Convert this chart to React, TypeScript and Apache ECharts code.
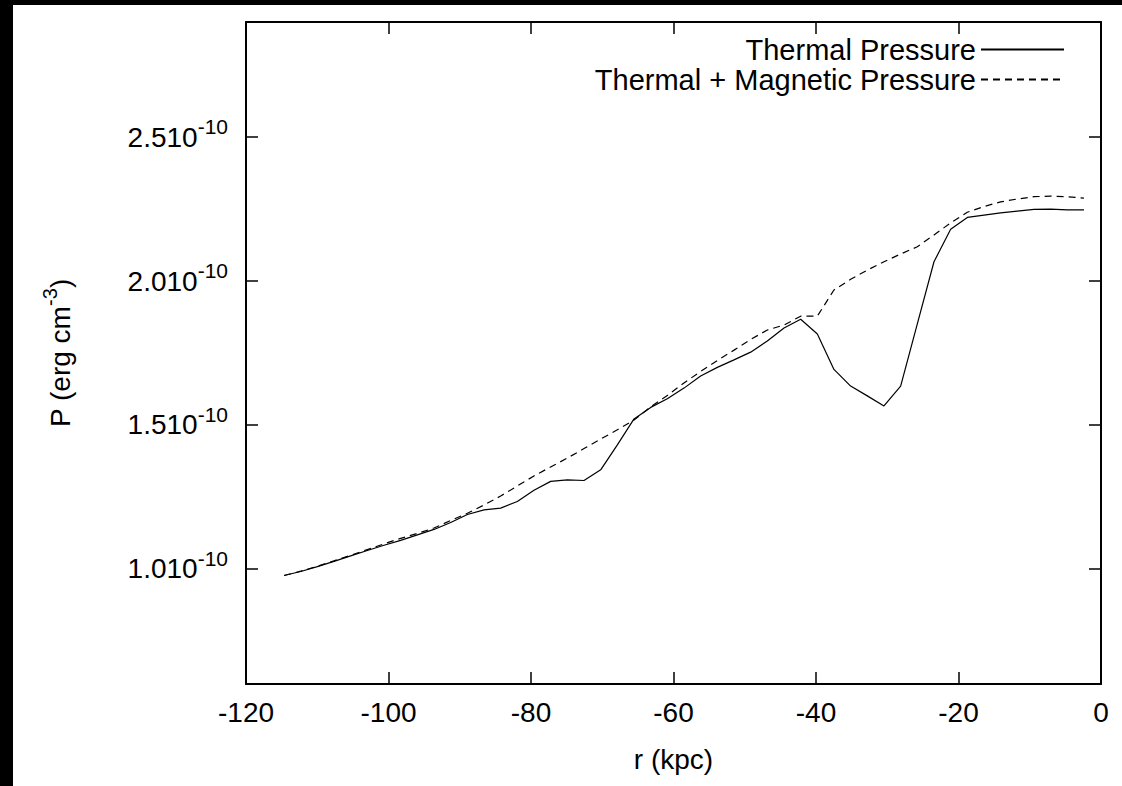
import React, { useEffect, useRef } from "react";
import * as echarts from "echarts";

// radius (kpc)
const radiusKpc = [
  -114.66, -112.32, -109.98, -107.65, -105.31, -102.97, -100.63, -98.29, -95.95, -93.61,
  -91.27, -88.93, -86.59, -84.26, -81.92, -79.58, -77.24, -74.9, -72.56, -70.22,
  -67.88, -65.54, -63.2, -60.87, -58.53, -56.19, -53.85, -51.51, -49.17, -46.83,
  -44.49, -42.15, -39.81, -37.48, -35.14, -32.8, -30.46, -28.12, -25.78, -23.44,
  -21.1, -18.76, -16.42, -14.09, -11.75, -9.41, -7.07, -4.73, -2.39,
];

// pressure in units of 1e-10 erg cm^-3
const thermalPressure = [
  0.977, 0.991, 1.008, 1.026, 1.045, 1.064, 1.082, 1.099, 1.118, 1.137,
  1.161, 1.189, 1.205, 1.211, 1.234, 1.273, 1.304, 1.309, 1.307, 1.344,
  1.431, 1.521, 1.561, 1.591, 1.628, 1.67, 1.7, 1.726, 1.753, 1.792,
  1.837, 1.867, 1.816, 1.693, 1.635, 1.601, 1.566, 1.635, 1.851, 2.067,
  2.18, 2.221, 2.229, 2.237, 2.243, 2.249, 2.25, 2.247, 2.247,
];

const thermalMagneticPressure = [
  0.977, 0.992, 1.009, 1.028, 1.047, 1.067, 1.087, 1.106, 1.123, 1.142,
  1.168, 1.193, 1.222, 1.253, 1.288, 1.323, 1.354, 1.385, 1.418, 1.451,
  1.483, 1.517, 1.563, 1.602, 1.646, 1.686, 1.724, 1.76, 1.797, 1.83,
  1.847, 1.878, 1.878, 1.969, 2.006, 2.038, 2.067, 2.094, 2.119, 2.16,
  2.202, 2.239, 2.259, 2.275, 2.285, 2.293, 2.295, 2.293, 2.288,
];

const yTickValues = [1.0, 1.5, 2.0, 2.5];
const seriesNames = ["Thermal Pressure", "Thermal + Magnetic Pressure"];

const FONT = "'Liberation Sans', Arial, Helvetica, sans-serif";

const makeTick = (custom?: number[]) => {
  const t: any = {
    show: true,
    inside: true,
    length: 12,
    lineStyle: { color: "#000", width: 1.5 },
  };
  if (custom) t.customValues = custom;
  return t;
};
const makeLine = () => ({ show: true, onZero: false, lineStyle: { color: "#000", width: 2 } });

const supRich = (size: number) => ({
  a: { fontFamily: FONT, fontSize: 28, lineHeight: 28, color: "#000", verticalAlign: "bottom" },
  b: {
    fontFamily: FONT,
    fontSize: size,
    lineHeight: size,
    color: "#000",
    verticalAlign: "bottom",
    padding: [0, 0, 14, 0],
  },
});

export default function App() {
  const ref = useRef<HTMLDivElement>(null);
  useEffect(() => {
    if (!ref.current) return;
    const chart = echarts.init(ref.current, undefined, { renderer: "svg" });
    const legendBase = {
      right: 57,
      padding: 0,
      align: "right",
      orient: "vertical",
      itemWidth: 83,
      itemHeight: 12,
      itemGap: 0,
      selectedMode: false,
      itemStyle: { opacity: 0 },
      textStyle: { fontFamily: FONT, fontSize: 29, color: "#000", lineHeight: 28 },
    };
    chart.setOption({
      animation: false,
      backgroundColor: "#fff",
      textStyle: { fontFamily: FONT, color: "#000" },
      grid: { left: 246, top: 22, right: 21, bottom: 102, containLabel: false },
      legend: [
        { ...legendBase, data: [seriesNames[0]], top: 35 },
        { ...legendBase, data: [seriesNames[1]], top: 65 },
      ],
      xAxis: [
        {
          type: "value",
          min: -120,
          max: 0,
          interval: 20,
          position: "bottom",
          name: "r (kpc)",
          nameLocation: "middle",
          nameGap: 61,
          nameTextStyle: { fontFamily: FONT, fontSize: 28, color: "#000" },
          axisLine: makeLine(),
          axisTick: makeTick(),
          splitLine: { show: false },
          axisLabel: { fontFamily: FONT, fontSize: 28, color: "#000", margin: 14 },
        },
        {
          type: "value",
          min: -120,
          max: 0,
          interval: 20,
          position: "top",
          axisLine: makeLine(),
          axisTick: makeTick(),
          splitLine: { show: false },
          axisLabel: { show: false },
        },
      ],
      yAxis: [
        {
          type: "value",
          min: 0.6,
          max: 2.9,
          position: "left",
          name: "{a|P (erg cm}{b|-3}{a|)}",
          nameLocation: "middle",
          nameRotate: 90,
          nameGap: 172,
          nameTextStyle: { fontFamily: FONT, color: "#000", rich: supRich(20) },
          axisLine: makeLine(),
          axisTick: makeTick(yTickValues),
          splitLine: { show: false },
          axisLabel: {
            customValues: yTickValues,
            margin: 18,
            formatter: (v: number) => `{a|${v.toFixed(1)}10}{b|-10}`,
            rich: supRich(21),
          },
        },
        {
          type: "value",
          min: 0.6,
          max: 2.9,
          position: "right",
          axisLine: makeLine(),
          axisTick: makeTick(yTickValues),
          splitLine: { show: false },
          axisLabel: { show: false },
        },
      ],
      series: [
        {
          name: seriesNames[0],
          type: "line",
          xAxisIndex: 0,
          yAxisIndex: 0,
          symbol: "none",
          data: radiusKpc.map((x, i) => [x, thermalPressure[i]]),
          lineStyle: { color: "#000", width: 1.2, type: "solid" },
          itemStyle: { color: "#000" },
        },
        {
          name: seriesNames[1],
          type: "line",
          xAxisIndex: 0,
          yAxisIndex: 0,
          symbol: "none",
          data: radiusKpc.map((x, i) => [x, thermalMagneticPressure[i]]),
          lineStyle: { color: "#000", width: 1.2, type: [7, 5] },
          itemStyle: { color: "#000" },
        },
      ],
      graphic: [
        { type: "rect", left: 0, top: 0, shape: { width: 13, height: 786 }, style: { fill: "#000" }, silent: true },
        { type: "rect", left: 0, top: 0, shape: { width: 1122, height: 5 }, style: { fill: "#000" }, silent: true },
      ],
    });
    return () => chart.dispose();
  }, []);
  return (
    <div
      ref={ref}
      style={{ position: "fixed", left: 0, top: 0, width: 1122, height: 786, background: "#fff" }}
    />
  );
}
